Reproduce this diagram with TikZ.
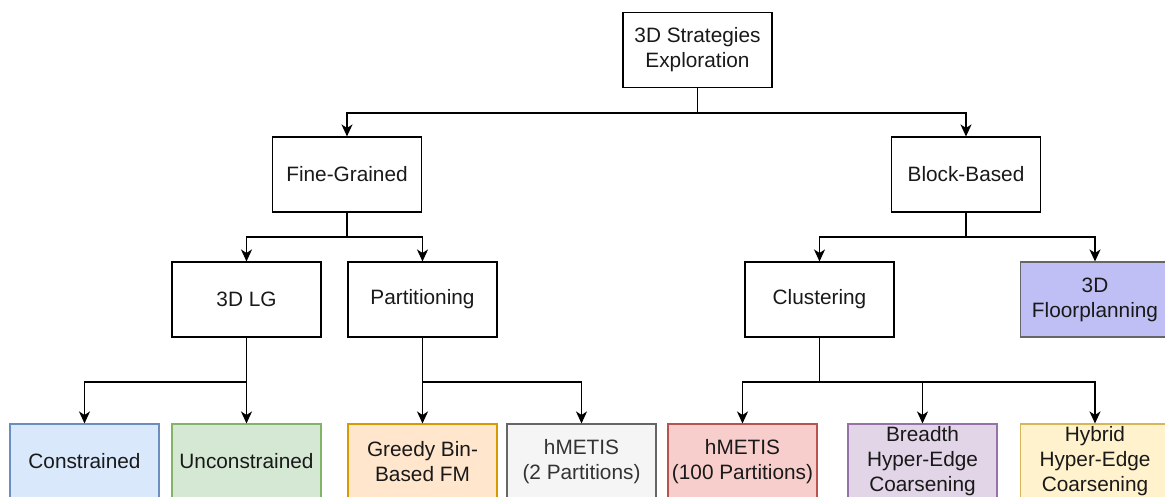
\documentclass[tikz,border=0pt]{standalone}
\usepackage{fontspec}
\setmainfont{Liberation Sans}
\usetikzlibrary{arrows.meta}
\definecolor{bluef}{HTML}{DAE8FC}\definecolor{blued}{HTML}{6C8EBF}
\definecolor{greenf}{HTML}{D5E8D4}\definecolor{greend}{HTML}{82B366}
\definecolor{orangef}{HTML}{FFE6CC}\definecolor{oranged}{HTML}{D79B00}
\definecolor{grayf}{HTML}{F5F5F5}\definecolor{grayd}{HTML}{666666}\definecolor{grayt}{HTML}{333333}
\definecolor{redf}{HTML}{F8CECC}\definecolor{redd}{HTML}{B85450}
\definecolor{purplef}{HTML}{E1D5E7}\definecolor{purpled}{HTML}{9673A6}
\definecolor{yellowf}{HTML}{FFF2CC}\definecolor{yellowd}{HTML}{D6B656}
\definecolor{lavf}{HTML}{BFBFF5}
\tikzset{
  box/.style={draw=black, line width=1.1pt, minimum width=149pt, minimum height=75pt,
    inner sep=0pt, align=center, font=\fontsize{20.8}{25}\selectfont, text=black!90},
  arr/.style={line width=1.3pt, draw=black, -{Stealth[length=12pt,width=11pt,inset=3.5pt]}},
}
\begin{document}
\begin{tikzpicture}[x=1pt,y=-1pt]
\useasboundingbox (0,0) rectangle (1165,496);
\clip (0,0) rectangle (1165,496);
% nodes
\node[box] (root) at (697.5,50) {3D Strategies\\Exploration};
\node[box] (fg) at (347,174.5) {Fine-Grained};
\node[box] (bb) at (966,174.5) {Block-Based};
\node[box] (lg) at (246.5,299.5) {3D LG};
\node[box] (part) at (422.5,299.5) {Partitioning};
\node[box] (clu) at (819.5,299.5) {Clustering};
\node[box, fill=lavf, draw=grayd] (fp) at (1095,299.5) {3D\\Floorplanning};
\node[box, fill=bluef, draw=blued] (con) at (84.5,461.5) {Constrained};
\node[box, fill=greenf, draw=greend] (uncon) at (246.5,461.5) {Unconstrained};
\node[box, fill=orangef, draw=oranged] (greedy) at (422.5,461.5) {Greedy Bin-\\Based FM};
\node[box, fill=grayf, draw=grayd, text=grayt] (hm2) at (581.5,461.5) {hMETIS\\(2 Partitions)};
\node[box, fill=redf, draw=redd] (hm100) at (742.5,461.5) {hMETIS\\(100 Partitions)};
\node[box, fill=purplef, draw=purpled] (bhe) at (922.5,461.5) {Breadth\\Hyper-Edge\\Coarsening};
\node[box, fill=yellowf, draw=yellowd] (hhe) at (1095,461.5) {Hybrid\\Hyper-Edge\\Coarsening};
% connectors
\draw[arr] (root.south) -- ++(0,25) -| (fg.north);
\draw[arr] (root.south) -- ++(0,25) -| (bb.north);
\draw[arr] (fg.south) -- ++(0,24.5) -| (lg.north);
\draw[arr] (fg.south) -- ++(0,24.5) -| (part.north);
\draw[arr] (bb.south) -- ++(0,24.5) -| (clu.north);
\draw[arr] (bb.south) -- ++(0,24.5) -| (fp.north);
\draw[arr] (lg.south) -- ++(0,44.5) -| (con.north);
\draw[arr] (lg.south) -- (uncon.north);
\draw[arr] (part.south) -- (greedy.north);
\draw[arr] (part.south) -- ++(0,44.5) -| (hm2.north);
\draw[arr] (clu.south) -- ++(0,44.5) -| (hm100.north);
\draw[arr] (clu.south) -- ++(0,44.5) -| (bhe.north);
\draw[arr] (clu.south) -- ++(0,44.5) -| (hhe.north);
\end{tikzpicture}
\end{document}
